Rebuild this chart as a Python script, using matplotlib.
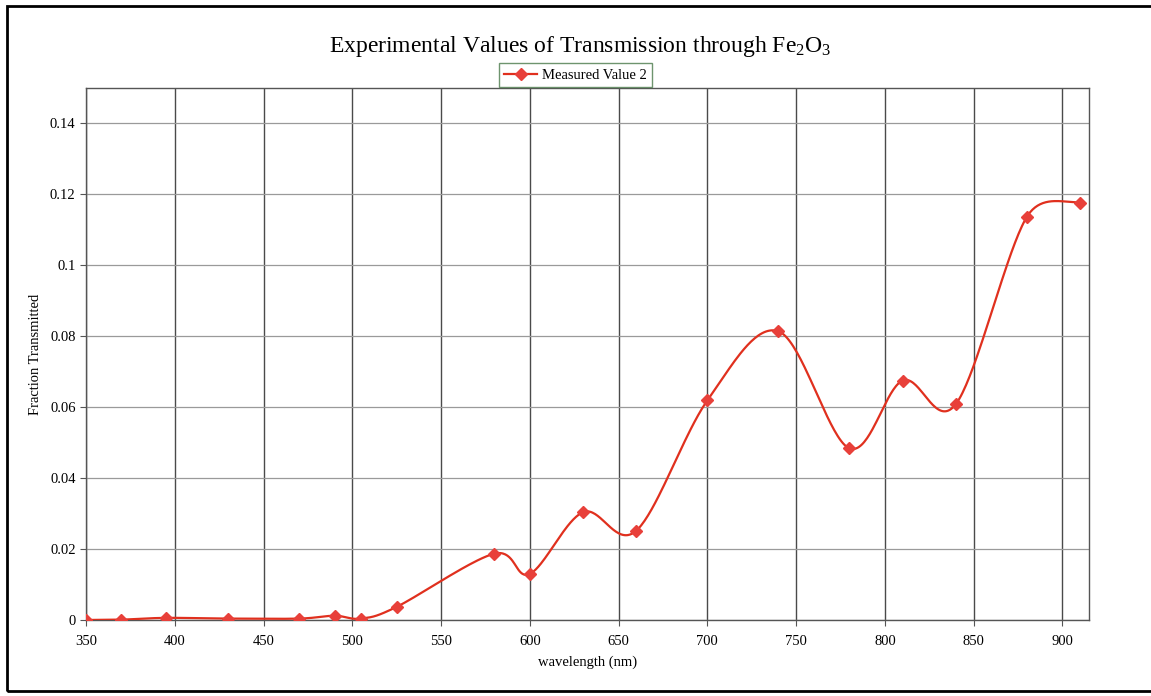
import numpy as np
import matplotlib
matplotlib.use("Agg")
import matplotlib.pyplot as plt
from matplotlib.patches import Rectangle
from matplotlib.lines import Line2D

wavelength = [350, 370, 395, 430, 470, 490, 505, 525, 580, 600, 630, 660,
              700, 740, 780, 810, 840, 880, 910]
fraction = [0.0, 0.0001, 0.0006, 0.0004, 0.0004, 0.0012, 0.0004, 0.0037,
            0.0187, 0.0130, 0.0304, 0.0252, 0.0619, 0.0814, 0.0484, 0.0675,
            0.0609, 0.1137, 0.1177]
series_name = "Measured Value 2"
x_ticks = [350, 400, 450, 500, 550, 600, 650, 700, 750, 800, 850, 900]
y_ticks = [0, 0.02, 0.04, 0.06, 0.08, 0.1, 0.12, 0.14]
y_tick_labels = ["0", "0.02", "0.04", "0.06", "0.08", "0.1", "0.12", "0.14"]

plt.rcParams['font.family'] = ['Liberation Serif', 'DejaVu Serif']
plt.rcParams['mathtext.fontset'] = 'custom'
plt.rcParams['mathtext.rm'] = 'Liberation Serif'
plt.rcParams['mathtext.it'] = 'Liberation Serif:italic'

fig = plt.figure(figsize=(11.51, 6.96), dpi=100)
ax = fig.add_axes([0.0747, 0.1092, 0.8715, 0.7644])
xmin, xmax, ymin, ymax = 350, 915, 0, 0.15
ax.set_xlim(xmin, xmax)
ax.set_ylim(ymin, ymax)

# Excel-like smoothing (Catmull-Rom Bezier in display-normalized space)
px = np.array(wavelength, float)
py = np.array(fraction, float)
nx = (px - xmin) / (xmax - xmin) * 1003
ny = (py - ymin) / (ymax - ymin) * 532
pts = np.column_stack([nx, ny])
curve = []
n = len(pts)
for i in range(n - 1):
    p0 = pts[i - 1] if i > 0 else pts[i]
    p1 = pts[i]
    p2 = pts[i + 1]
    p3 = pts[i + 2] if i + 2 < n else pts[i + 1]
    c1 = p1 + (p2 - p0) / 6.0
    c2 = p2 - (p3 - p1) / 6.0
    if i + 2 >= n:
        c1 = p1 + (p2 - p0) / 9.0
        c2 = p2 - np.array([(p2 - p1)[0] / 3.0, 0.0])
    t = np.linspace(0, 1, 40)[:, None]
    seg = ((1 - t) ** 3) * p1 + 3 * ((1 - t) ** 2) * t * c1 + 3 * (1 - t) * t ** 2 * c2 + t ** 3 * p2
    curve.append(seg if i == 0 else seg[1:])
curve = np.vstack(curve)
cx = curve[:, 0] / 1003 * (xmax - xmin) + xmin
cy = curve[:, 1] / 532 * (ymax - ymin) + ymin

ax.set_xticks(x_ticks)
ax.set_yticks(y_ticks)
ax.set_yticklabels(y_tick_labels)
ax.xaxis.grid(True, color='#4a4a4a', linewidth=1.0)
ax.yaxis.grid(True, color='#9a9a9a', linewidth=0.9)
ax.set_axisbelow(True)
for s in ax.spines.values():
    s.set_color('#555555')
    s.set_linewidth(1.0)
ax.tick_params(axis='both', labelsize=10.5, length=4, color='#555555', direction='out')
ax.tick_params(axis='x', pad=7)

ax.plot(cx, cy, color='#e0301e', linewidth=1.6, zorder=3)
ax.plot(px, py, linestyle='none', marker='D', markersize=6, color='#e8403a',
        markeredgecolor='#e8403a', zorder=4)

ax.set_xlabel("wavelength (nm)", fontsize=10.5, labelpad=5)
ax.set_ylabel("Fraction Transmitted", fontsize=10.5, labelpad=6)

fig.text(0.504, 1 - 52 / 696, r"Experimental Values of Transmission through Fe$_2$O$_3$",
         ha='center', va='baseline', fontsize=17)

handle = Line2D([0], [0], color='#e0301e', linewidth=1.6, marker='D', markersize=6,
                markerfacecolor='#e8403a', markeredgecolor='#e8403a')
leg = fig.legend([handle], [series_name], loc='center', bbox_to_anchor=(0.4998, 1 - 75 / 696),
                 fontsize=10.5, frameon=True, fancybox=False, handlelength=2.3,
                 borderpad=0.35, handletextpad=0.3, borderaxespad=0)
leg.get_frame().set_edgecolor('#4a7a4a')
leg.get_frame().set_linewidth(1.0)

fig.patches.append(Rectangle((0.006, 0.007), 1.2, 0.984, transform=fig.transFigure,
                             fill=False, edgecolor='black', linewidth=2.0))

fig.savefig("out.png", dpi=100)
